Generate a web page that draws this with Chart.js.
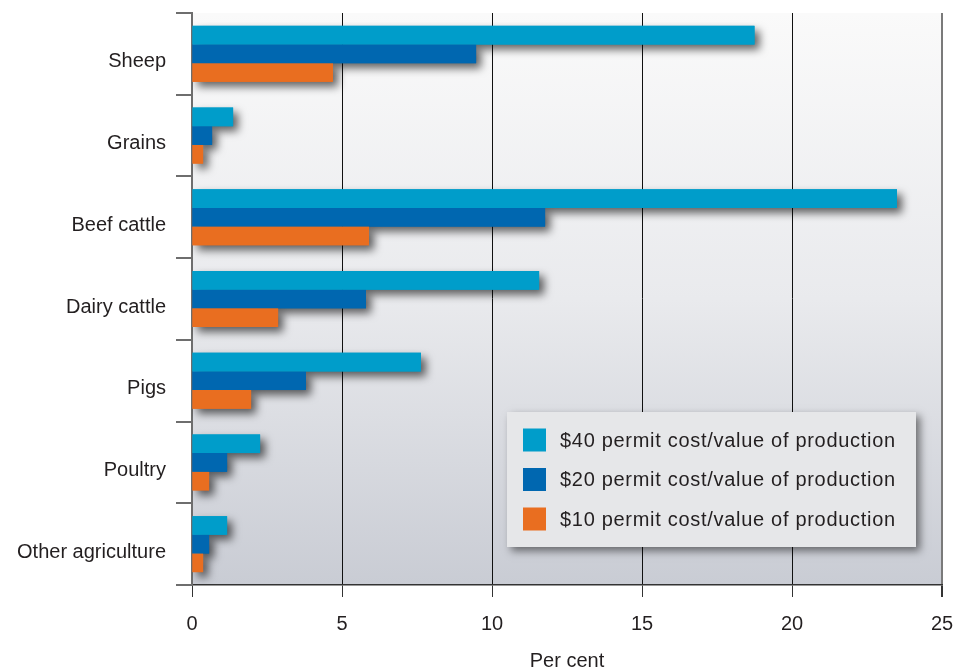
<!DOCTYPE html>
<html>
<head>
<meta charset="utf-8">
<script src="https://cdn.jsdelivr.net/npm/chart.js@4/dist/chart.umd.min.js"></script>
<style>
  html, body { margin: 0; padding: 0; background: #fff; }
  #wrap { width: 953px; height: 670px; position: relative; }
</style>
</head>
<body>
<div id="wrap"><canvas id="permitChart" width="953" height="670"></canvas></div>
<script>
// Permit cost as a share of value of production, by farm type
const categories = ['Sheep', 'Grains', 'Beef cattle', 'Dairy cattle', 'Pigs', 'Poultry', 'Other agriculture'];
const permit40 = [18.75, 1.37, 23.5, 11.57, 7.63, 2.27, 1.17];
const permit20 = [9.47, 0.67, 11.77, 5.8, 3.8, 1.17, 0.57];
const permit10 = [4.7, 0.37, 5.9, 2.87, 1.97, 0.57, 0.37];
const seriesLabels = [
  '$40 permit cost/value of production',
  '$20 permit cost/value of production',
  '$10 permit cost/value of production'
];
const xTicks = [0, 5, 10, 15, 20, 25];

const FONT = '"Liberation Sans", Arial, sans-serif';
const FONT_SIZE = 20;
const TRACKING = '0.75px';
const TEXT = '#231f20';
const colors = ['#009dca', '#0067b0', '#e96e20'];

// gradient fill behind the plot area
const plotBackground = {
  id: 'plotBackground',
  beforeDraw(chart) {
    const { ctx, chartArea: a } = chart;
    const g = ctx.createLinearGradient(0, a.top, 0, a.bottom);
    g.addColorStop(0, '#fafafa');
    g.addColorStop(0.5, '#e9eaed');
    g.addColorStop(1, '#c9ccd4');
    ctx.save();
    ctx.fillStyle = g;
    ctx.fillRect(a.left, a.top, a.right - a.left, a.bottom - a.top);
    ctx.restore();
  }
};

// drop shadows for every bar, painted underneath all bars so a lower
// bar in the group covers the shadow of the one above it
const barShadow = {
  id: 'barShadow',
  beforeDatasetsDraw(chart) {
    const ctx = chart.ctx;
    const a = chart.chartArea;
    ctx.save();
    ctx.beginPath();
    ctx.rect(a.left, a.top, a.right - a.left, a.bottom - a.top);
    ctx.clip();
    ctx.shadowColor = 'rgba(0,0,0,0.6)';
    ctx.shadowBlur = 8;
    ctx.shadowOffsetX = 5;
    ctx.shadowOffsetY = 5;
    chart.data.datasets.forEach((ds, i) => {
      const meta = chart.getDatasetMeta(i);
      ctx.fillStyle = ds.backgroundColor;
      meta.data.forEach((bar) => {
        const p = bar.getProps(['x', 'y', 'base', 'height'], true);
        const left = Math.min(p.base, p.x);
        ctx.fillRect(left, p.y - p.height / 2, Math.abs(p.x - p.base), p.height);
      });
    });
    ctx.restore();
  }
};

// legend box drawn inside the plot, lower right
const boxLegend = {
  id: 'boxLegend',
  afterDraw(chart) {
    const ctx = chart.ctx;
    const x = 507, y = 412, w = 409, h = 135;
    ctx.save();
    ctx.shadowColor = 'rgba(0,0,0,0.5)';
    ctx.shadowBlur = 8;
    ctx.shadowOffsetX = 4;
    ctx.shadowOffsetY = 4;
    ctx.fillStyle = '#e6e7e9';
    ctx.fillRect(x, y, w, h);
    ctx.restore();

    ctx.save();
    ctx.font = FONT_SIZE + 'px ' + FONT;
    ctx.letterSpacing = '0.7px';
    ctx.textBaseline = 'middle';
    chart.data.datasets.forEach((ds, i) => {
      const cy = y + 28 + i * 39.5;
      ctx.fillStyle = ds.backgroundColor;
      ctx.fillRect(x + 16, cy - 11.5, 23, 23);
      ctx.fillStyle = TEXT;
      ctx.fillText(ds.label, x + 53, cy + 1);
    });
    ctx.restore();
  }
};

const ctx = document.getElementById('permitChart').getContext('2d');
ctx.letterSpacing = TRACKING;

new Chart(ctx, {
  type: 'bar',
  data: {
    labels: categories,
    datasets: [
      { label: seriesLabels[0], data: permit40, backgroundColor: colors[0] },
      { label: seriesLabels[1], data: permit20, backgroundColor: colors[1] },
      { label: seriesLabels[2], data: permit10, backgroundColor: colors[2] }
    ]
  },
  options: {
    indexAxis: 'y',
    responsive: false,
    animation: false,
    layout: { padding: { top: 13, right: 11, bottom: 0, left: 0 } },
    datasets: { bar: { categoryPercentage: 0.685, barPercentage: 1, borderWidth: 0 } },
    scales: {
      x: {
        min: 0,
        max: 25,
        afterBuildTicks: (scale) => { scale.ticks = xTicks.map(v => ({ value: v })); },
        afterFit: (scale) => {
          scale.height = 85;
          scale.paddingLeft = 0;
          scale.paddingRight = 0;
        },
        grid: {
          color: (c) => (c.tick && c.tick.value === 25 ? '#7a7a7a' : '#111'),
          lineWidth: (c) => (c.tick && c.tick.value === 25 ? 2 : 1),
          tickLength: 12,
          tickColor: '#333'
        },
        border: { display: true, color: '#333', width: 1.5 },
        ticks: { color: TEXT, font: { family: FONT, size: FONT_SIZE }, padding: 15 },
        title: {
          display: true,
          text: 'Per cent',
          color: TEXT,
          font: { family: FONT, size: FONT_SIZE },
          padding: { top: 0, bottom: -3 }
        }
      },
      y: {
        afterFit: (scale) => {
          scale.width = 192;
          scale.paddingTop = 0;
          scale.paddingBottom = 0;
        },
        grid: {
          offset: true,
          drawOnChartArea: false,
          tickLength: 16,
          color: '#6e6e6e',
          lineWidth: 2
        },
        border: { display: true, color: '#6e6e6e', width: 2 },
        ticks: { color: TEXT, font: { family: FONT, size: FONT_SIZE }, padding: 10, labelOffset: 8 }
      }
    },
    plugins: {
      legend: { display: false },
      tooltip: { enabled: false }
    }
  },
  plugins: [plotBackground, barShadow, boxLegend]
});
</script>
</body>
</html>
